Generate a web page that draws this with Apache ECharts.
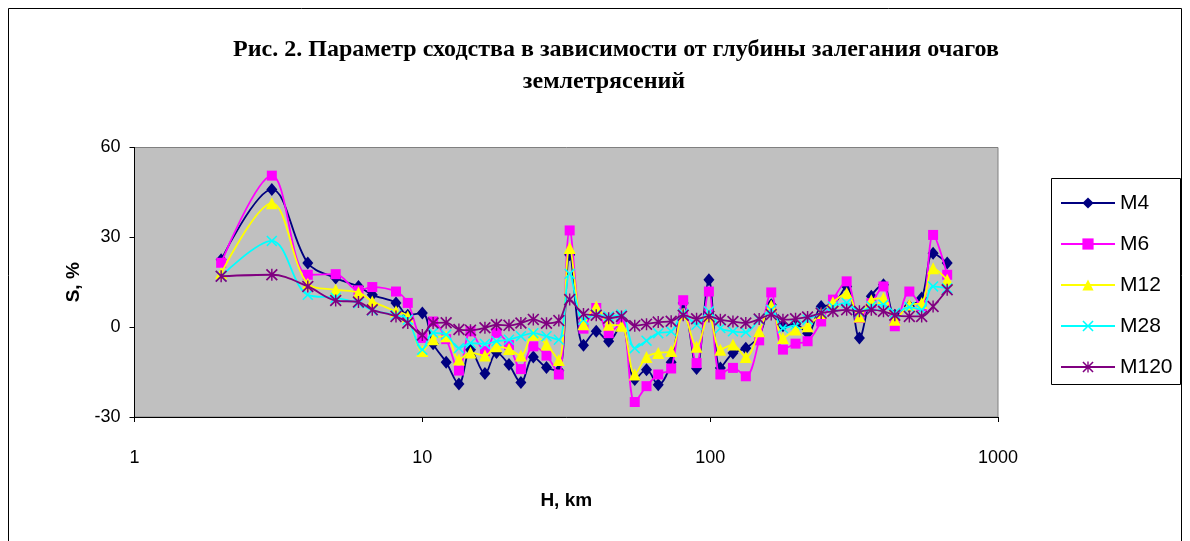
<!DOCTYPE html>
<html>
<head>
<meta charset="utf-8">
<script src="https://cdn.jsdelivr.net/npm/echarts@6/dist/echarts.min.js"></script>
<style>
html,body{margin:0;padding:0;background:#fff;}
#chart{width:1190px;height:541px;}
</style>
</head>
<body>
<div id="chart"></div>
<script>
var depth = [2,3,4,5,6,6.7,8.1,8.9,10,10.9,12.1,13.4,14.7,16.5,18.1,20,22,24.3,27,29.8,32.5,36.3,40.2,44.4,49.2,54.7,60.1,66,73.2,80.6,89.7,99,108.5,120,133,148,163,179,198,218,243,267,298,330,363,400,438,492,543,595,666];
var m4 = [22.5,46,21.4,16.4,13.6,10.8,8.1,4,4.7,-5.5,-11.7,-19,-7.5,-15.5,-8.5,-12.5,-18.5,-10,-13.5,-14.5,24.2,-6,-1.4,-4.7,1,-17.5,-14.2,-19.2,-11.7,8.1,-13.8,15.8,-13.6,-8.6,-7,-3,7.5,0.5,1,-2,6.9,7.5,13.6,-3.6,10.3,14.2,4,7,9.7,24.7,21.4];
var m6 = [21.5,50.6,17.5,17.7,12.3,13.4,11.9,8.1,-3.6,1.9,-4,-14.5,-1.4,-8,-1.9,-6,-14,-6.4,-9.5,-15.8,32.3,-0.5,6.4,-2,1.5,-25,-19.7,-15.8,-13.8,9,-12,11.9,-15.8,-13.6,-16.4,-4.4,11.6,-7.5,-5.5,-4.7,1.9,9.2,15.3,3.1,8,13.6,0.3,11.9,7,30.8,17.5];
var m12 = [18,41.4,14.5,12.5,11.6,8.6,5.3,3.6,-8,-4,-3,-10.8,-8.5,-9.5,-6.4,-7.3,-9.5,-2.5,-5.8,-11,26.4,1,6.9,0.8,0.5,-15.8,-10,-8.6,-8,4.5,-6.5,4,-7.5,-5.8,-10,-1.4,7.2,-3.6,-0.8,0.3,4.7,8.3,11.4,3.6,9,9.7,2.5,7.5,8.1,19.7,15.8];
var m28 = [17,28.8,10.8,9.8,8,5.6,4,2.5,-7.5,-1.9,-2.5,-7,-5.3,-5.6,-4.7,-4.2,-3,-2,-3,-4.2,17.8,2.5,4.2,3.6,4.2,-7,-4.5,-2,-1.4,4.5,0.8,5.3,-0.3,-1.4,-1.7,2.5,5.8,-0.3,0.8,2.5,5,6.9,8.1,5,7,7.5,4.7,6.7,5.8,13.6,13];
var m120 = [17,17.5,13.6,8.9,8.4,5.8,3.6,1.4,-2.6,1.4,1.5,-0.8,-1,-0.2,0.8,0.6,1.4,2.6,1.3,2.2,9.2,4.4,4,3,3.6,0.5,1,1.7,2,4,2.8,3.6,2.5,1.9,1.4,2.7,4.2,2.5,2.8,3.4,4.7,5.3,5.8,5.3,5.8,5.3,4,3.6,3.6,6.9,12.5];
var seriesNames = ['M4','M6','M12','M28','M120'];
var xTicks = [1,10,100,1000];
var yTicks = [-30,0,30,60];
var titleLines = ['Рис. 2. Параметр сходства в зависимости от глубины залегания очагов', 'землетрясений'];

var X_PATH = 'path://M0,1 L1,0 L5,4 L9,0 L10,1 L6,5 L10,9 L9,10 L5,6 L1,10 L0,9 L4,5 Z';
var STAR_PATH = 'path://M0,1 L1,0 L5,4 L9,0 L10,1 L6,5 L10,9 L9,10 L5,6 L1,10 L0,9 L4,5 Z M4.4,0 L5.6,0 L5.6,10 L4.4,10 Z';

function pairs(vals){ return depth.map(function(d,i){ return [d, vals[i]]; }); }

var styles = [
  {color:'#000080', symbol:'diamond', size:[11,13]},
  {color:'#FF00FF', symbol:'rect', size:10},
  {color:'#FFFF00', symbol:'triangle', size:12},
  {color:'#00FFFF', symbol:X_PATH, size:11},
  {color:'#800080', symbol:STAR_PATH, size:12}
];
var allVals = [m4,m6,m12,m28,m120];

var series = seriesNames.map(function(n,i){
  return {
    name:n, type:'line', data:pairs(allVals[i]),
    smooth:0.35, symbol:styles[i].symbol, symbolSize:styles[i].size,
    showAllSymbol:true,
    lineStyle:{color:styles[i].color, width:1.8},
    itemStyle:{color:styles[i].color, opacity:1},
    emphasis:{disabled:true},
    z: 2+i
  };
});

var titleStyle = {fontFamily:'Liberation Serif', fontWeight:'bold', fontSize:24, lineHeight:32, color:'#000'};

var chart = echarts.init(document.getElementById('chart'), null, {renderer:'canvas'});
chart.setOption({
  animation:false,
  backgroundColor:'#ffffff',
  title:[
    {text:titleLines[0], left:616, top:34, textAlign:'center', padding:0, textStyle:titleStyle},
    {text:titleLines[1], left:604, top:66, textAlign:'center', padding:0, textStyle:titleStyle}
  ],
  graphic:[
    {type:'rect', shape:{x:8.5,y:8.5,width:1173,height:545}, style:{fill:'none', stroke:'#000', lineWidth:1}, z:-1, silent:true},
    {type:'rect', shape:{x:1051.5,y:178.5,width:129,height:206}, style:{fill:'#fff', stroke:'#000', lineWidth:1}, z:0, silent:true}
  ],
  legend:{
    orient:'vertical', left:1060, top:191, padding:0,
    itemWidth:54, itemHeight:14, itemGap:17,
    data:seriesNames,
    textStyle:{fontFamily:'Liberation Sans', fontSize:21, lineHeight:24, color:'#000'},
    z:5
  },
  grid:{left:134.5, right:192, top:147.5, bottom:124, show:true, backgroundColor:'#C0C0C0', borderColor:'#808080', borderWidth:1},
  xAxis:{
    type:'log', logBase:10, min:1, max:1000,
    name:'H, km', nameLocation:'middle', nameGap:74,
    nameTextStyle:{fontFamily:'Liberation Sans', fontWeight:'bold', fontSize:19, color:'#000'},
    axisLine:{show:true, onZero:false, lineStyle:{color:'#000', width:1}},
    axisTick:{show:true, length:5, lineStyle:{color:'#000'}},
    minorTick:{show:false},
    splitLine:{show:false},
    axisLabel:{margin:32, fontFamily:'Liberation Sans', fontSize:18, color:'#000',
      formatter:function(v){ return xTicks.indexOf(Math.round(v))>=0 ? String(Math.round(v)) : ''; }}
  },
  yAxis:{
    type:'value', min:-30, max:60, interval:30,
    name:'S, %', nameLocation:'middle', nameGap:44, nameRotate:90,
    nameTextStyle:{fontFamily:'Liberation Sans', fontWeight:'bold', fontSize:19, color:'#000'},
    axisLine:{show:true, onZero:false, lineStyle:{color:'#000', width:1}},
    axisTick:{show:true, length:5, lineStyle:{color:'#000'}},
    splitLine:{show:false},
    axisLabel:{margin:14, fontFamily:'Liberation Sans', fontSize:18, color:'#000',
      formatter:function(v){ return yTicks.indexOf(v)>=0 ? String(v) : ''; }}
  },
  series:series
});
</script>
</body>
</html>
